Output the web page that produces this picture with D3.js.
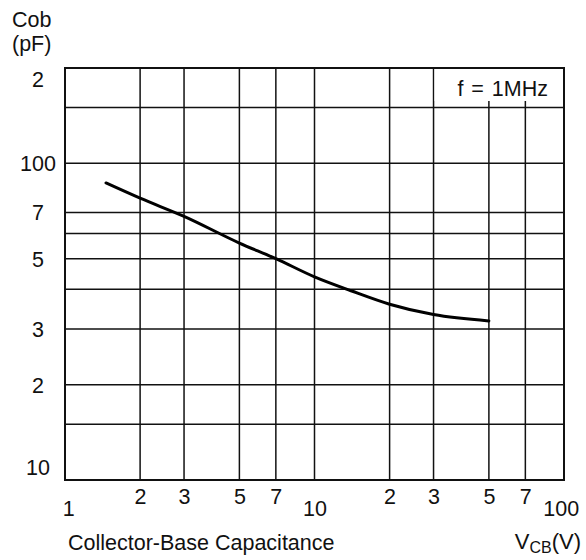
<!DOCTYPE html>
<html>
<head>
<meta charset="utf-8">
<script src="https://cdn.jsdelivr.net/npm/d3@7"></script>
<style>
  body { margin: 0; background: #fff; }
  text { font-family: "Liberation Sans", Arial, Helvetica, sans-serif; fill: #111; }
</style>
</head>
<body>
<svg id="chart"></svg>
<script>
// DATA
const vcb = [1.46, 2, 3, 5, 7, 10, 14, 20, 30, 50];
const cob = [86.7, 77.6, 68.0, 56.0, 50.0, 43.8, 39.6, 35.9, 33.3, 31.8];

const xGrid = [2, 3, 5, 7, 10, 20, 30, 50, 70];
const yGrid = [15, 20, 30, 40, 50, 60, 70, 100, 150];

const xTickValues = [1, 2, 3, 5, 7, 10, 20, 30, 50, 70, 100];
const xTickLabels = ["1", "2", "3", "5", "7", "10", "2", "3", "5", "7", "100"];
const yTickValues = [10, 20, 30, 50, 70, 100, 200];
const yTickLabels = ["10", "2", "3", "5", "7", "100", "2"];

const legendText = "f = 1MHz";

// --------------- SETUP ---------------
const width = 586;
const height = 560;
const plot = { left: 65, right: 564, top: 68, bottom: 480 };
const fontSize = 21.5;

const svg = d3.select("#chart")
    .attr("width", width)
    .attr("height", height);

const x = d3.scaleLog().domain([1, 100]).range([plot.left, plot.right]);
const y = d3.scaleLog().domain([10, 200]).range([plot.bottom, plot.top]);

// grid lines
svg.append("g")
    .selectAll("line")
    .data(xGrid)
    .join("line")
    .attr("x1", d => x(d)).attr("x2", d => x(d))
    .attr("y1", plot.top).attr("y2", plot.bottom)
    .attr("stroke", "#111")
    .attr("stroke-width", 1.5);

svg.append("g")
    .selectAll("line")
    .data(yGrid)
    .join("line")
    .attr("x1", plot.left).attr("x2", plot.right)
    .attr("y1", d => y(d)).attr("y2", d => y(d))
    .attr("stroke", "#111")
    .attr("stroke-width", 1.5);

// legend box (white patch over the grid, top right)
svg.append("rect")
    .attr("x", x(30) + 1)
    .attr("y", plot.top + 1)
    .attr("width", plot.right - x(30) - 2)
    .attr("height", 32)
    .attr("fill", "#fff");

svg.append("text")
    .attr("x", plot.right - 16)
    .attr("y", 96)
    .attr("text-anchor", "end")
    .attr("font-size", fontSize)
    .attr("word-spacing", 2)
    .text(legendText);

// frame
svg.append("rect")
    .attr("x", plot.left)
    .attr("y", plot.top)
    .attr("width", plot.right - plot.left)
    .attr("height", plot.bottom - plot.top)
    .attr("fill", "none")
    .attr("stroke", "#111")
    .attr("stroke-width", 2);

// axes (labels only)
const xAxis = svg.append("g")
    .attr("transform", `translate(0, ${plot.bottom})`)
    .call(d3.axisBottom(x)
        .tickValues(xTickValues)
        .tickFormat((d, i) => xTickLabels[i])
        .tickSize(0)
        .tickPadding(5));
xAxis.select(".domain").remove();
xAxis.selectAll("text")
    .attr("font-size", fontSize)
    .attr("font-family", null)
    .attr("dy", (d) => [1, 10, 100].includes(d) ? "1.45em" : "0.9em")
    .attr("dx", (d) => d === 1 ? "0.15em" : (d === 100 ? "-0.15em" : 0));

// y labels are centred in the left margin
const yAxis = svg.append("g")
    .attr("transform", `translate(${plot.left}, 0)`)
    .call(d3.axisLeft(y)
        .tickValues(yTickValues)
        .tickFormat((d, i) => yTickLabels[i])
        .tickSize(0)
        .tickPadding(10));
yAxis.select(".domain").remove();
yAxis.selectAll("text")
    .attr("font-size", fontSize)
    .attr("font-family", null)
    .attr("text-anchor", "middle")
    .attr("x", 38 - plot.left)
    .attr("dy", d => d === 200 ? "0.85em" : (d === 10 ? "-0.25em" : "0.35em"));

// curve
const line = d3.line()
    .x((d, i) => x(vcb[i]))
    .y(d => y(d))
    .curve(d3.curveMonotoneX);

svg.append("path")
    .datum(cob)
    .attr("fill", "none")
    .attr("stroke", "#000")
    .attr("stroke-width", 3)
    .attr("stroke-linecap", "round")
    .attr("d", line);

// axis titles
svg.append("text").attr("x", 12).attr("y", 27).attr("font-size", fontSize).text("Cob");
svg.append("text").attr("x", 12).attr("y", 51).attr("font-size", fontSize).text("(pF)");

svg.append("text")
    .attr("x", 68)
    .attr("y", 550)
    .attr("font-size", fontSize)
    .text("Collector-Base Capacitance");

const vt = svg.append("text")
    .attr("x", 581)
    .attr("y", 549)
    .attr("text-anchor", "end")
    .attr("font-size", 22);
vt.append("tspan").text("V");
vt.append("tspan").attr("font-size", 16).attr("dy", 4).text("CB");
vt.append("tspan").attr("dy", -4).text("(V)");
</script>
</body>
</html>
